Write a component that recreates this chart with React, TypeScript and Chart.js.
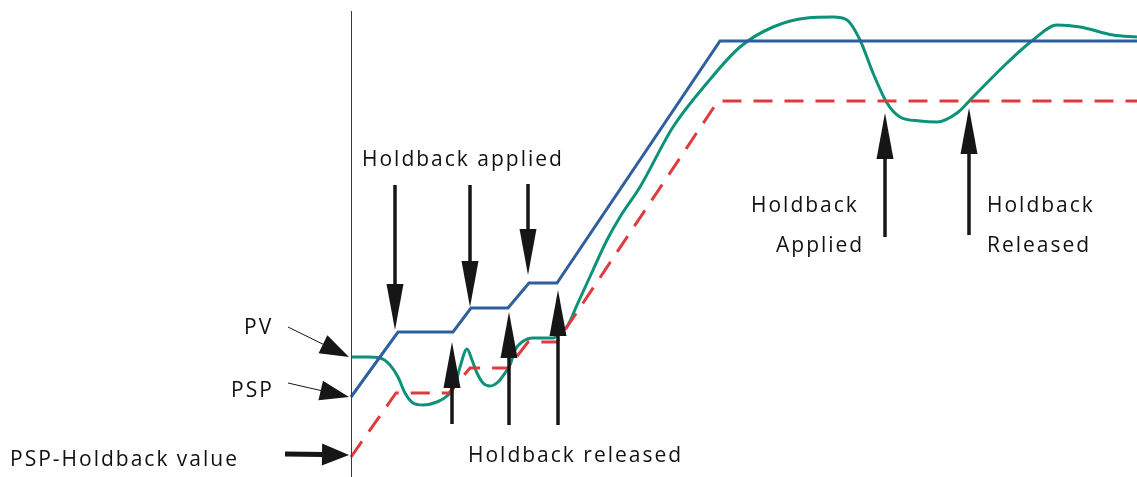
import React, { useEffect, useRef } from "react";
import { Chart, registerables } from "chart.js";

Chart.register(...registerables);

// Time axis (s) starts at 0 where the programme begins; value axis in process units.
const pspTime = [0, 47, 102, 120, 157, 178, 206, 369, 786];
const pspValue = [80, 145, 145, 169, 169, 194, 194, 436, 436];

const holdTime = [0, 45, 98, 119, 157, 177, 206, 367, 786];
const holdValue = [20, 84, 84, 109, 109, 135, 135, 376, 376];

const pvTime = [0, 16, 29, 39, 47, 54, 62, 72, 86, 96, 104, 109, 116, 121, 126, 132, 139, 147, 154, 159, 164, 171, 182, 202, 209, 217, 226, 242, 256, 269, 289, 322, 356, 389, 422, 456, 482, 496, 509, 522, 536, 549, 569, 586, 606, 622, 656, 682, 706, 729, 762, 786];
const pvValue = [120, 120, 119, 112, 100, 84, 74, 72, 75, 81, 92, 110, 128, 117, 104, 94, 91, 95, 104, 112, 127, 135, 139, 139, 144, 152, 172, 207, 237, 260, 290, 350, 394, 430, 450, 459, 460, 457, 437, 404, 374, 360, 356, 355, 364, 380, 414, 437, 452, 450, 442, 440];

// Annotation arrows: [fromTime, fromValue, toTime, toValue]
const appliedArrows = [
  [44, 292, 44, 147],
  [119, 292, 119, 170],
  [177, 293, 177, 202],
];
const releasedArrows = [
  [101, 53, 101, 135],
  [158, 52, 158, 165],
  [207, 52, 207, 187],
];
const rightArrows = [
  [534, 240, 534, 364],
  [618, 242, 618, 369],
];
const thinPointers = [
  [-63, 150, -2, 120],
  [-63, 94, -2, 80],
];
const thickPointer = [-66, 23, -2, 22];

const labelTexts = ["Holdback applied", "PV", "PSP", "PSP-Holdback value", "Holdback released", "Holdback", "Applied", "Holdback", "Released"];
const labelTime = [11, -107, -120, -341, 117, 400, 425, 636, 636];
const labelValue = [311, 143, 80, 11, 15, 265, 225, 265, 225];

const axisTop = 466;

const toXY = (t: number[], v: number[]) => t.map((x, i) => ({ x, y: v[i] }));

function drawArrow(ctx: CanvasRenderingContext2D, x1: number, y1: number, x2: number, y2: number, headLen: number, headW: number, shaftW: number) {
  const dx = x2 - x1;
  const dy = y2 - y1;
  const len = Math.hypot(dx, dy);
  const ux = dx / len;
  const uy = dy / len;
  const bx = x2 - ux * headLen;
  const by = y2 - uy * headLen;
  ctx.beginPath();
  ctx.lineWidth = shaftW;
  ctx.moveTo(x1, y1);
  ctx.lineTo(bx + ux * 2, by + uy * 2);
  ctx.stroke();
  ctx.beginPath();
  ctx.moveTo(x2, y2);
  ctx.lineTo(bx - uy * headW / 2, by + ux * headW / 2);
  ctx.lineTo(bx + uy * headW / 2, by - ux * headW / 2);
  ctx.closePath();
  ctx.fill();
}

const annotationPlugin = {
  id: "holdbackAnnotations",
  afterDatasetsDraw(chart: any) {
    const ctx: CanvasRenderingContext2D = chart.ctx;
    const xs = chart.scales.x;
    const ys = chart.scales.y;
    const px = (v: number) => xs.getPixelForValue(v);
    const py = (v: number) => ys.getPixelForValue(v);
    ctx.save();
    // time axis origin line
    ctx.strokeStyle = "#3a3a3a";
    ctx.lineWidth = 1;
    ctx.beginPath();
    ctx.moveTo(Math.round(px(0)) + 0.5, py(axisTop));
    ctx.lineTo(Math.round(px(0)) + 0.5, py(0));
    ctx.stroke();

    ctx.strokeStyle = "#161616";
    ctx.fillStyle = "#161616";
    ctx.lineCap = "butt";
    for (const a of [...appliedArrows, ...releasedArrows, ...rightArrows]) {
      drawArrow(ctx, px(a[0]), py(a[1]), px(a[2]), py(a[3]), 46, 17, 3.5);
    }
    for (const a of thinPointers) {
      drawArrow(ctx, px(a[0]), py(a[1]), px(a[2]), py(a[3]), 29, 20, 1);
    }
    drawArrow(ctx, px(thickPointer[0]), py(thickPointer[1]), px(thickPointer[2]), py(thickPointer[3]), 27, 22, 5);

    ctx.fillStyle = "#111111";
    ctx.font = "21px 'Open Sans'";
    (ctx as any).letterSpacing = "2px";
    ctx.textAlign = "left";
    ctx.textBaseline = "alphabetic";
    labelTexts.forEach((t, i) => {
      ctx.fillText(t, px(labelTime[i]), py(labelValue[i]));
    });
    ctx.restore();
  },
};

export default function App() {
  const ref = useRef<HTMLCanvasElement | null>(null);
  useEffect(() => {
    document.body.style.margin = "0";
    if (!ref.current) return;
    const chart = new Chart(ref.current, {
      type: "line",
      data: {
        datasets: [
          {
            label: "PSP",
            data: toXY(pspTime, pspValue),
            borderColor: "#2f5f9e",
            borderWidth: 3,
            pointRadius: 0,
            tension: 0,
            fill: false,
          },
          {
            label: "PSP-Holdback value",
            data: toXY(holdTime, holdValue),
            borderColor: "#e2393e",
            borderWidth: 3,
            borderDash: [19, 12],
            pointRadius: 0,
            tension: 0,
            fill: false,
          },
          {
            label: "PV",
            data: toXY(pvTime, pvValue),
            borderColor: "#0c9279",
            borderWidth: 3,
            pointRadius: 0,
            cubicInterpolationMode: "monotone",
            fill: false,
          },
        ],
      },
      options: {
        animation: false,
        responsive: true,
        maintainAspectRatio: false,
        layout: { padding: 0 },
        plugins: { legend: { display: false }, tooltip: { enabled: false } },
        scales: {
          x: { type: "linear", min: -351, max: 786, display: false },
          y: { type: "linear", min: 0, max: 477, display: false },
        },
      },
      plugins: [annotationPlugin],
    });
    return () => chart.destroy();
  }, []);
  return (
    <div style={{ position: "fixed", left: 0, top: 0, width: 1137, height: 477, background: "#ffffff" }}>
      <canvas ref={ref} />
    </div>
  );
}
